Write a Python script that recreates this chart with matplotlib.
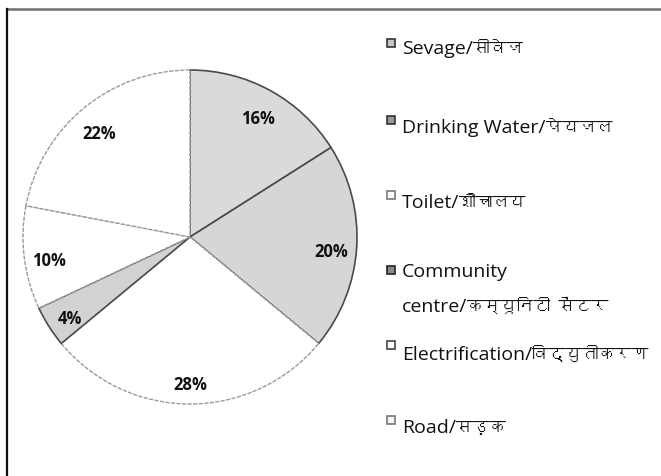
import matplotlib
matplotlib.use('Agg')
import matplotlib.pyplot as plt
from matplotlib import font_manager
from matplotlib.patches import Rectangle
from matplotlib.lines import Line2D
from matplotlib.ft2font import FT2Font

# data
labels_en = ['Sevage/', 'Drinking Water/', 'Toilet/', 'Community\ncentre/', 'Electrification/', 'Road/']
labels_hi = ['सीवेज', 'पेयजल', 'शौचालय', 'कम्यूनिटी सेंटर', 'विद्युतीकरण', 'सड़क']
values = [16, 20, 28, 4, 10, 22]
colors = ['#dadada', '#d6d6d6', '#ffffff', '#d2d2d2', '#ffffff', '#ffffff']
marker_colors = ['#c4c4c4', '#9a9a9a', '#ffffff', '#8a8a8a', '#ffffff', '#f4f4f4']
marker_edges = ['#333333', '#333333', '#777777', '#222222', '#444444', '#777777']

# a font that has devanagari glyphs
deva = None
for f in sorted(font_manager.findSystemFonts()):
    try:
        if 0x0915 in FT2Font(f).get_charmap():
            deva = font_manager.FontProperties(fname=f).get_name()
            break
    except Exception:
        pass
fam_hi = [deva, 'DejaVu Sans'] if deva else ['DejaVu Sans']

fig = plt.figure(figsize=(6.61, 4.77), dpi=100)
W, H = 661, 477
px = lambda x, y: (x / W, 1 - y / H)

# outer frame (top and left edges visible)
fig.add_artist(Line2D([7 / W, 1.0], [1 - 10 / H] * 2, transform=fig.transFigure,
                      color='#707070', lw=1.8))
fig.add_artist(Line2D([7 / W] * 2, [0, 1 - 10 / H], transform=fig.transFigure,
                      color='#111111', lw=1.6))

cx, cy, r = 190, 238, 167
ax = fig.add_axes([(cx - r) / W, (H - cy - r) / H, 2 * r / W, 2 * r / H])
wedges, texts, autotexts = ax.pie(values, colors=colors, startangle=90, counterclock=False,
                                  autopct='%d%%', pctdistance=0.85,
                                  wedgeprops=dict(linewidth=1, edgecolor='#9a9a9a'),
                                  textprops=dict(fontsize=12, fontweight='bold',
                                                 family=['Open Sans', 'DejaVu Sans'],
                                                 color='#111111'))
for w, c in zip(wedges, colors):
    if c != '#ffffff':
        w.set_edgecolor('#4a4a4a')
        w.set_linewidth(1.2)
    else:
        w.set_linestyle((0, (3, 1)))
for t in autotexts:
    x, y = t.get_position()
    t.set_position((x, y - 0.03))
ax.set_aspect('auto')
ax.set_xlim(-1, 1)
ax.set_ylim(-1, 1)

# legend, drawn by hand to follow the original spacing
baselines = [54, 133, 208, 312, 360, 433]
marker_tops = [40, 117, 192, 267, 342, 417]
renderer = fig.canvas.get_renderer()
for en, hi, b, mt, mc, me in zip(labels_en, labels_hi, baselines, marker_tops,
                                 marker_colors, marker_edges):
    lines = en.split('\n')
    for k, ln in enumerate(lines[:-1]):
        fig.text(*px(402, b - 35 * (len(lines) - 1 - k)), ln, family=['Open Sans'],
                 fontsize=14, color='#111111', va='baseline', ha='left')
    t = fig.text(*px(402, b), lines[-1], family=['Open Sans'], fontsize=14,
                 color='#111111', va='baseline', ha='left')
    bb = t.get_window_extent(renderer=renderer)
    fig.text(bb.x1 / W / fig.dpi * 100, 1 - b / H, hi, family=fam_hi, fontsize=12,
             color='#111111', va='baseline', ha='left')
    fig.patches.append(Rectangle(px(387, mt + 8), 8 / W, 8 / H,
                                 transform=fig.transFigure, facecolor=mc,
                                 edgecolor=me, lw=1.2))

fig.savefig('out.png', dpi=100)
